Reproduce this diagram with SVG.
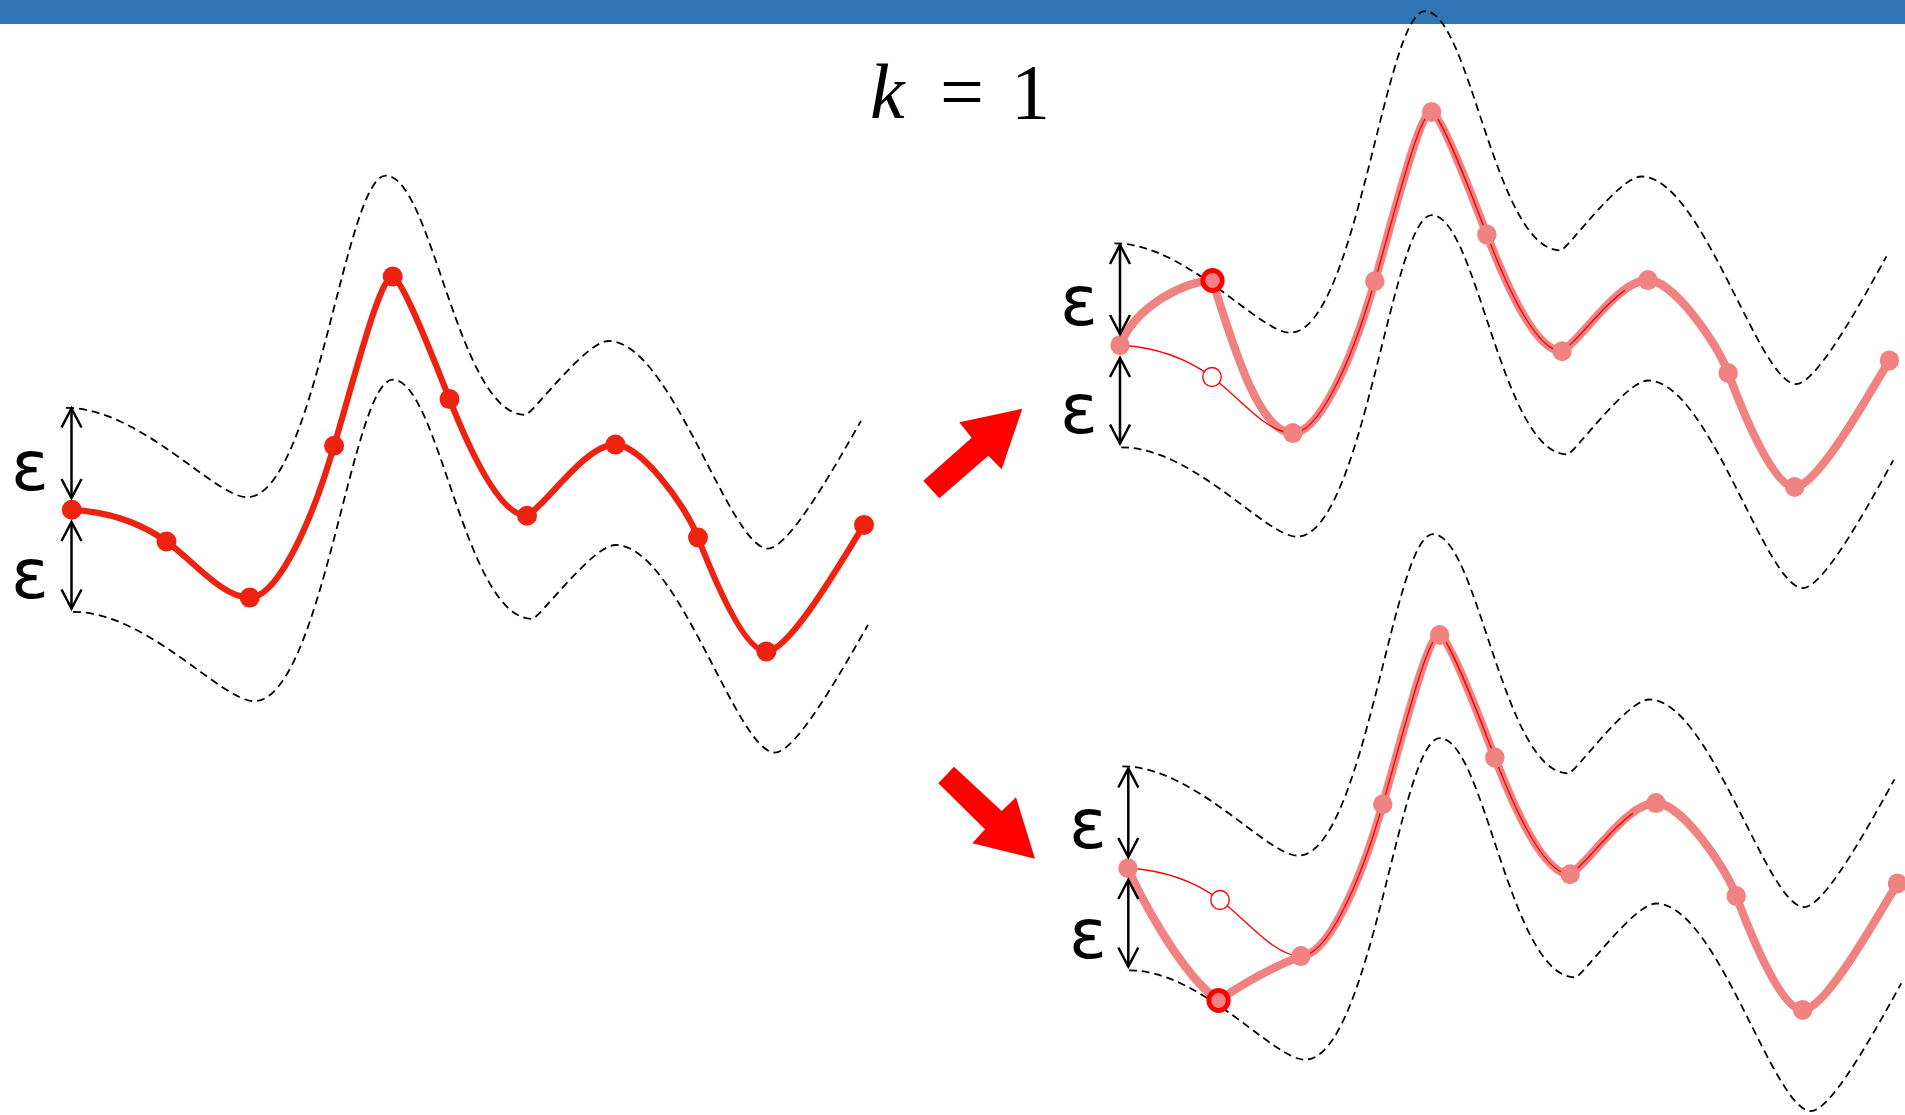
<svg xmlns="http://www.w3.org/2000/svg" xmlns:xlink="http://www.w3.org/1999/xlink" width="1905" height="1115" viewBox="0 0 1905 1115">
<style>
.dash{fill:none;stroke:#000;stroke-width:1.8;stroke-dasharray:8 5}
.red{fill:none;stroke:#EE2211;stroke-width:6.2;stroke-linecap:round;stroke-linejoin:round}
.pink{fill:none;stroke:#F08282;stroke-width:8.5;stroke-linecap:round;stroke-linejoin:round}
.thin{fill:none;stroke:#FF0000;stroke-width:1.4}
.dot{fill:#EE2211}
.pdot{fill:#F08282}
.ring{fill:#F08282;stroke:#FF0000;stroke-width:5}
.open{fill:#fff;stroke:#FF0000;stroke-width:1.4}
.arr{stroke:#000;stroke-width:2.5;marker-start:url(#ah);marker-end:url(#ah)}
.eps{font-family:"DejaVu Sans",sans-serif;font-size:70px;text-anchor:middle;fill:#000}
.title{font-family:"Liberation Serif",serif;font-size:78px;fill:#000}
.blk{fill:#FF0000}
</style>
<defs>
<marker id="ah" markerUnits="userSpaceOnUse" markerWidth="26" markerHeight="26" viewBox="0 0 26 26" refX="22" refY="13" orient="auto-start-reverse">
<path d="M3,3 L22,13 L3,23" fill="none" stroke="#000" stroke-width="2.5"/>
</marker>
<path id="band" d="M66,407.8 C140,407.8 215,497.2 246.8,497.2 C315,497.2 345,175.7 385.8,175.7 C432,175.7 458,414.9 525.3,414.9 C531.8,414.9 585.5,341 608.5,341 C671.2,341 729.4,548.6 768,548.6 C790,548.6 841,455.5 861,420.9"/>
<path id="curve" d="M71.8,509.8 C103.4,511.4 134.9,518.8 166.5,541.5 C194.2,561.5 222,597.6 249.7,597.6 C275,597.6 308,534 334.1,445.8 C357,368.5 380,276.5 392.7,276.5 C403,280 434.5,361 449.5,399.1 C470,451 500,515.8 527,515.8 C548,503 585,444.6 615.4,444.6 C640,444.6 685,503.8 698,537.5 C716,584 745,651.4 766.4,651.4 C790,651.4 844,556.9 864,524.9"/>
<path id="thinpath" d="M71.8,509.8 C103.4,511.4 134.9,518.8 166.5,541.5 C194.2,561.5 222,597.6 249.7,597.6 C275,597.6 308,534 334.1,445.8 C357,368.5 380,276.5 392.7,276.5 C403,280 434.5,361 449.5,399.1 C470,451 500,515.8 527,515.8 C542.75,506.2 567.5,470.95 591.7,454.9"/>
<path id="pinkup" d="M71.8,509.8 C88,470 140,445 167,445 C188,510 215,597.6 249.7,597.6 C275,597.6 308,534 334.1,445.8 C357,368.5 380,276.5 392.7,276.5 C403,280 434.5,361 449.5,399.1 C470,451 500,515.8 527,515.8 C548,503 585,444.6 615.4,444.6 C640,444.6 685,503.8 698,537.5 C716,584 745,651.4 766.4,651.4 C790,651.4 844,556.9 864,524.9"/>
<path id="pinkdown" d="M71.8,509.8 C80,530 125,615 165,642 C195,622 225,607 249.7,597.6 C275,597.6 308,534 334.1,445.8 C357,368.5 380,276.5 392.7,276.5 C403,280 434.5,361 449.5,399.1 C470,451 500,515.8 527,515.8 C548,503 585,444.6 615.4,444.6 C640,444.6 685,503.8 698,537.5 C716,584 745,651.4 766.4,651.4 C790,651.4 844,556.9 864,524.9"/>
<g id="pinkdots" class="pdot">
<circle cx="71.8" cy="509.8" r="10"/>
<circle cx="249.7" cy="597.6" r="10"/>
<circle cx="334.1" cy="445.8" r="10"/>
<circle cx="392.7" cy="276.5" r="10"/>
<circle cx="449.5" cy="399.1" r="10"/>
<circle cx="527" cy="515.8" r="10"/>
<circle cx="615.4" cy="444.6" r="10"/>
<circle cx="698" cy="537.5" r="10"/>
<circle cx="766.4" cy="651.4" r="10"/>
<circle cx="864" cy="524.9" r="10"/>
</g>
</defs>

<rect x="0" y="0" width="1905" height="24" fill="#2E75B6"/>

<text class="title" y="118"><tspan x="870" font-style="italic">k</tspan><tspan x="940">=</tspan><tspan x="1011">1</tspan></text>

<g id="left-panel">
<use xlink:href="#band" class="dash"/>
<use xlink:href="#band" class="dash" transform="translate(7,204)"/>
<use xlink:href="#curve" class="red"/>
<g class="dot">
<circle cx="71.8" cy="509.8" r="10"/>
<circle cx="166.5" cy="541.5" r="10"/>
<circle cx="249.7" cy="597.6" r="10"/>
<circle cx="334.1" cy="445.8" r="10"/>
<circle cx="392.7" cy="276.5" r="10"/>
<circle cx="449.5" cy="399.1" r="10"/>
<circle cx="527" cy="515.8" r="10"/>
<circle cx="615.4" cy="444.6" r="10"/>
<circle cx="698" cy="537.5" r="10"/>
<circle cx="766.4" cy="651.4" r="10"/>
<circle cx="864" cy="524.9" r="10"/>
</g>
<line class="arr" x1="71.5" y1="408.5" x2="71.5" y2="498"/>
<line class="arr" x1="71.5" y1="522" x2="71.5" y2="608.5"/>
<text class="eps" x="30" y="490">ε</text>
<text class="eps" x="30" y="598">ε</text>
</g>

<g id="top-right-panel">
<g transform="matrix(0.9712,0,0,1,1050.3,-164.5)">
<use xlink:href="#band" class="dash"/>
<use xlink:href="#band" class="dash" transform="translate(7,204)"/>
<use xlink:href="#pinkup" class="pink"/>
<use xlink:href="#thinpath" class="thin"/>
<use xlink:href="#pinkdots"/>
<circle class="open" cx="166.5" cy="541.5" r="9.5"/>
<circle class="ring" cx="167" cy="445" r="10"/>
</g>
<line class="arr" x1="1120" y1="245" x2="1120" y2="334"/>
<line class="arr" x1="1120" y1="358" x2="1120" y2="443.5"/>
<text class="eps" x="1079" y="325">ε</text>
<text class="eps" x="1079" y="433">ε</text>
</g>

<g id="bottom-right-panel">
<g transform="matrix(0.9712,0,0,1,1058.3,358.5)">
<use xlink:href="#band" class="dash"/>
<use xlink:href="#band" class="dash" transform="translate(7,204)"/>
<use xlink:href="#pinkdown" class="pink"/>
<use xlink:href="#thinpath" class="thin"/>
<use xlink:href="#pinkdots"/>
<circle class="open" cx="166.5" cy="541.5" r="9.5"/>
<circle class="ring" cx="165" cy="642" r="10"/>
</g>
<line class="arr" x1="1128.3" y1="768.5" x2="1128.3" y2="857"/>
<line class="arr" x1="1128.3" y1="880" x2="1128.3" y2="966.5"/>
<text class="eps" x="1088" y="848">ε</text>
<text class="eps" x="1088" y="958">ε</text>
</g>

<g id="connectors">
<polygon class="blk" points="923.3,480.7 939.3,498.3 988.3,455.7 1001.7,469.3 1022.3,408.7 959.3,422.3 971.7,437.7"/>
<polygon class="blk" points="954,766.7 938.3,783.3 985,829.3 972.3,843.3 1035,858.7 1016,797.3 1001.7,811"/>
</g>
</svg>
